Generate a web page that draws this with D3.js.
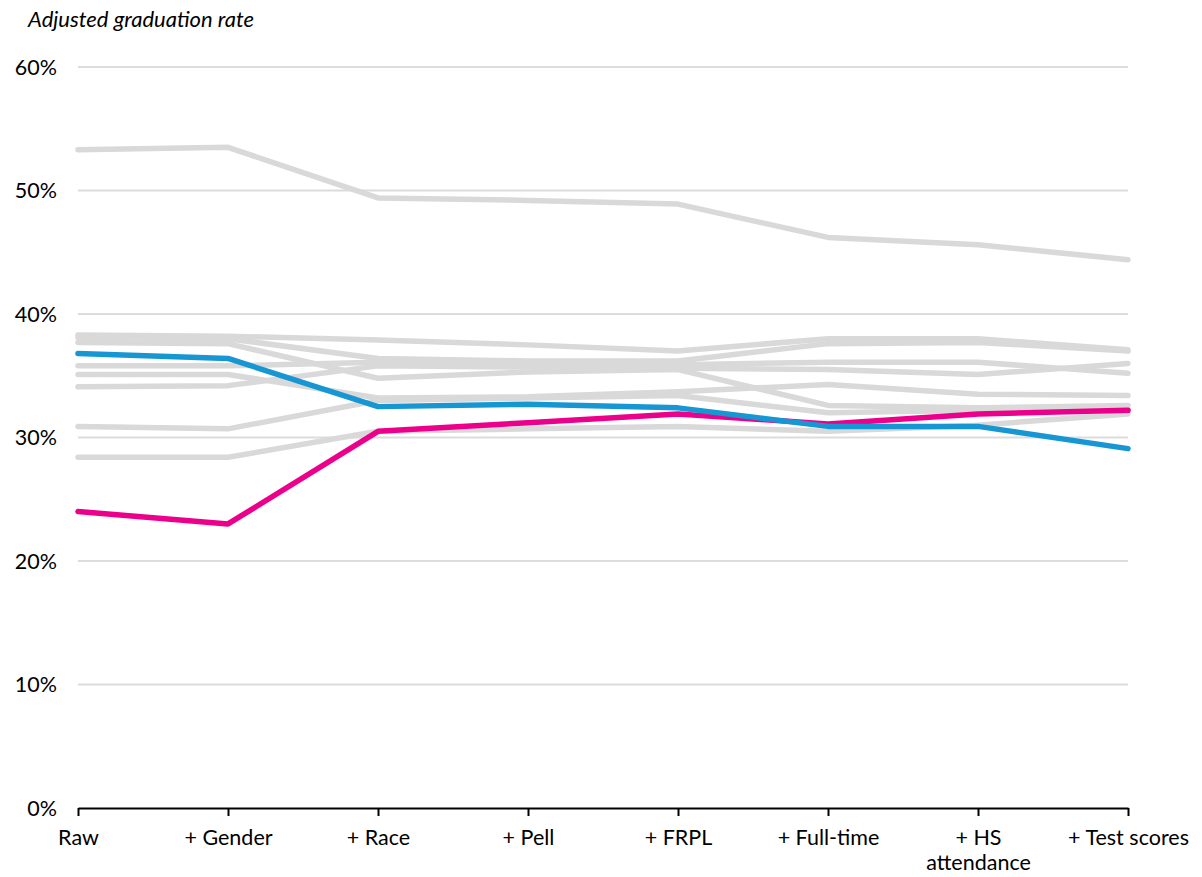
<!DOCTYPE html>
<html>
<head>
<meta charset="utf-8">
<script src="https://cdn.jsdelivr.net/npm/d3@7"></script>
<style>
  body { margin: 0; background: #fff; }
  text { font-family: Lato, "Open Sans", sans-serif; fill: #000; }
</style>
</head>
<body>
<script>
// categories along the x axis
var steps = ["Raw", "+ Gender", "+ Race", "+ Pell", "+ FRPL", "+ Full-time", "+ HS attendance", "+ Test scores"];
var yTicks = [0, 0.1, 0.2, 0.3, 0.4, 0.5, 0.6];

// background institutions (gray)
var gray0 = [53.3, 53.5, 49.4, 49.2, 48.9, 46.2, 45.6, 44.4];
var gray1 = [38.3, 38.2, 37.9, 37.5, 37.0, 38.0, 38.0, 37.1];
var gray2 = [38.1, 38.0, 36.4, 36.2, 36.2, 37.6, 37.7, 37.0];
var gray3 = [37.7, 37.6, 34.8, 35.3, 35.5, 32.6, 32.4, 32.6];
var gray4 = [35.8, 35.8, 36.1, 36.0, 35.9, 36.1, 36.1, 35.2];
var gray5 = [35.1, 35.1, 33.2, 33.3, 33.7, 34.3, 33.5, 33.4];
var gray6 = [34.1, 34.2, 35.8, 35.7, 35.6, 35.5, 35.1, 36.0];
var gray7 = [30.9, 30.7, 33.0, 33.2, 33.4, 32.0, 32.2, 32.3];
var gray8 = [28.4, 28.4, 30.5, 30.7, 30.9, 30.5, 31.0, 31.9];
// highlighted institutions
var pinkLine = [24.0, 23.0, 30.5, 31.2, 31.9, 31.1, 31.9, 32.2];
var blueLine = [36.8, 36.4, 32.5, 32.7, 32.4, 30.9, 30.9, 29.1];

var grays = [gray0, gray1, gray2, gray3, gray4, gray5, gray6, gray7, gray8];

var margin = {top: 67, right: 74, bottom: 69, left: 78},
    width = 1202 - margin.left - margin.right,
    height = 877 - margin.top - margin.bottom;

var svg = d3.select("body").append("svg")
    .attr("width", 1202)
    .attr("height", 877);

var g = svg.append("g")
    .attr("transform", "translate(" + margin.left + "," + margin.top + ")");

var x = d3.scalePoint().domain(steps).range([0, width]);
var y = d3.scaleLinear().domain([0, 0.6]).range([height, 0]);

// title
svg.append("text")
    .attr("x", 28).attr("y", 27)
    .style("font-size", "22px")
    .style("font-style", "italic")
    .text("Adjusted graduation rate");

// gridlines
g.selectAll(".grid")
    .data(yTicks.filter(function (d) { return d > 0; }))
    .enter().append("line")
    .attr("x1", 0).attr("x2", width)
    .attr("y1", function (d) { return y(d); })
    .attr("y2", function (d) { return y(d); })
    .attr("stroke", "#dcdcdc")
    .attr("stroke-width", 2);

// y labels
g.selectAll(".ylab")
    .data(yTicks)
    .enter().append("text")
    .attr("x", -21)
    .attr("y", function (d) { return y(d); })
    .attr("dy", "0.35em")
    .attr("text-anchor", "end")
    .style("font-size", "21.5px")
    .text(d3.format(".0%"));

// x axis
var xAxis = g.append("g")
    .attr("transform", "translate(0," + height + ")")
    .call(d3.axisBottom(x).tickSize(8).tickSizeOuter(0).tickFormat(""));
xAxis.select(".domain").attr("stroke", "#000").attr("stroke-width", 2);
xAxis.selectAll(".tick line").attr("stroke", "#000").attr("stroke-width", 2);

// x labels (wrap the long one)
var labelWrap = {"+ HS attendance": ["+ HS", "attendance"]};
xAxis.selectAll(".tick").each(function (d) {
    var lines = labelWrap[d] || [d];
    var t = d3.select(this).append("text")
        .attr("text-anchor", "middle")
        .attr("y", 37)
        .style("font-size", "21.5px")
        .style("fill", "#000");
    lines.forEach(function (l, i) {
        t.append("tspan").attr("x", 0).attr("dy", i === 0 ? 0 : 25).text(l);
    });
});

var line = d3.line()
    .x(function (d, i) { return x(steps[i]); })
    .y(function (d) { return y(d / 100); });

g.selectAll(".gray")
    .data(grays)
    .enter().append("path")
    .attr("d", line)
    .attr("fill", "none")
    .attr("stroke", "#d9d9d9")
    .attr("stroke-width", 5.5)
    .attr("stroke-linecap", "round")
    .attr("stroke-linejoin", "round");

g.append("path")
    .attr("d", line(pinkLine))
    .attr("fill", "none")
    .attr("stroke", "#ec008b")
    .attr("stroke-width", 5.5)
    .attr("stroke-linecap", "round")
    .attr("stroke-linejoin", "round");

g.append("path")
    .attr("d", line(blueLine))
    .attr("fill", "none")
    .attr("stroke", "#1696d2")
    .attr("stroke-width", 5.5)
    .attr("stroke-linecap", "round")
    .attr("stroke-linejoin", "round");
</script>
</body>
</html>
